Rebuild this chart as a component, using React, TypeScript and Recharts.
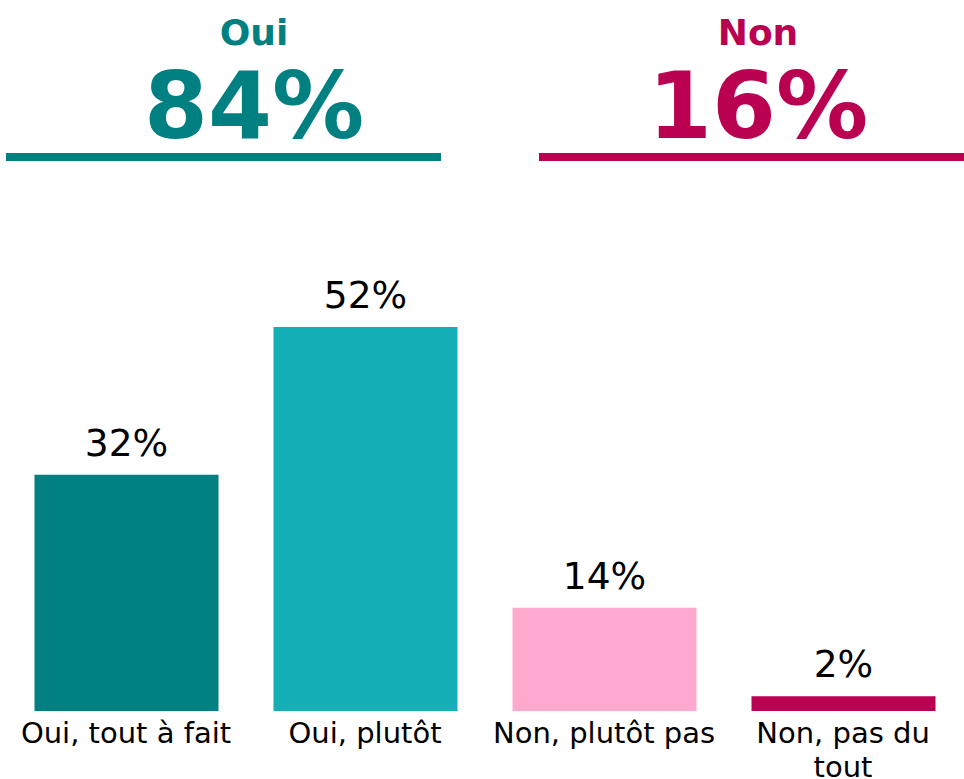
import { BarChart, Bar, Cell, XAxis, YAxis, LabelList } from "recharts";

const categories = ["Oui, tout à fait", "Oui, plutôt", "Non, plutôt pas", "Non, pas du tout"];
// how each category label is broken into lines under its bar
const categoryLines = [["Oui, tout à fait"], ["Oui, plutôt"], ["Non, plutôt pas"], ["Non, pas du", "tout"]];
const values = [32, 52, 14, 2];

const summaryLabels = ["Oui", "Non"];
const summaryValues = [84, 16];

const FONT = "'DejaVu Sans', Verdana, sans-serif";
const BAR_COLORS = ["#008080", "#14afb7", "#ffa9cf", "#ba0050"];
const SUMMARY_COLORS = ["#008080", "#ba0050"];

const data = categories.map((name, i) => ({ name, value: values[i] }));

// header blocks: text centre and underline span
const HEADER = [
  { cx: 254, x1: 6, x2: 441 },
  { cx: 758, x1: 539, x2: 964 },
];

const CategoryTick = ({ x, y, payload }: any) => {
  const lines = categoryLines[categories.indexOf(payload.value)] || [payload.value];
  return (
    <text x={x} y={y} textAnchor="middle" fontSize={29} fontFamily={FONT} fill="#000">
      {lines.map((l, i) => (
        <tspan key={i} x={x} dy={i === 0 ? 0 : 34}>{l}</tspan>
      ))}
    </text>
  );
};

function Header() {
  return (
    <svg width={964} height={170} style={{ position: "absolute", left: 0, top: 0 }}>
      {HEADER.map((h, i) => (
        <g key={i} fill={SUMMARY_COLORS[i]} fontFamily={FONT} fontWeight="bold" textAnchor="middle">
          <text x={h.cx} y={44.5} fontSize={36}>{summaryLabels[i]}</text>
          <text x={h.cx} y={138} fontSize={92}>{`${summaryValues[i]}%`}</text>
          <rect x={h.x1} y={153} width={h.x2 - h.x1} height={8} />
        </g>
      ))}
    </svg>
  );
}

export default function App() {
  return (
    <div style={{ position: "absolute", left: 0, top: 0, width: 964, height: 779, background: "#fff" }}>
      <Header />
      <div style={{ position: "absolute", left: 0, top: 0 }}>
        <BarChart width={964} height={779} data={data}
          margin={{ top: 268, right: 1.5, left: 6.5, bottom: 0 }}>
          <XAxis dataKey="name" axisLine={false} tickLine={false} tickSize={0} tickMargin={32}
            height={68} interval={0} tick={<CategoryTick />} />
          <YAxis hide domain={[0, 60]} />
          <Bar dataKey="value" barSize={184} isAnimationActive={false}>
            {data.map((d, i) => (
              <Cell key={d.name} fill={BAR_COLORS[i]} />
            ))}
            <LabelList dataKey="value" position="top" offset={19}
              formatter={(v: any) => `${v}%`}
              style={{ fontSize: 37.5, fontFamily: FONT, fill: "#000" }} />
          </Bar>
        </BarChart>
      </div>
    </div>
  );
}
